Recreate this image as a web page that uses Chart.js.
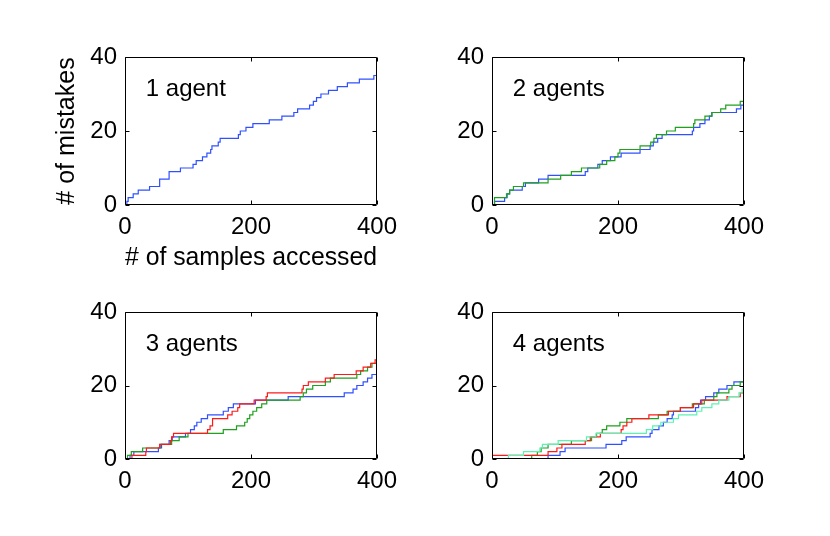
<!DOCTYPE html>
<html>
<head>
<meta charset="utf-8">
<script src="https://cdn.jsdelivr.net/npm/chart.js@4.4.1/dist/chart.umd.min.js"></script>
<style>
  body { margin: 0; background: #fff; width: 830px; height: 536px; overflow: hidden; position: relative; }
  canvas { position: absolute; }
</style>
</head>
<body>
<canvas id="p1"></canvas>
<canvas id="p2"></canvas>
<canvas id="p3"></canvas>
<canvas id="p4"></canvas>
<script>
// axis ticks
const xTicks = [0, 200, 400];
const yTicks = [0, 20, 40];
const panelTitles = ['1 agent', '2 agents', '3 agents', '4 agents'];
const xLabel = '# of samples accessed';
const yLabel = '# of mistakes';

// 1 agent
const a1BlueX = [0,3,5,13,21,39,55,70,88,108,113,123,130,136,138,148,151,180,183,192,203,229,249,268,274,293,299,304,311,323,337,353,372,395,400];
const a1BlueY = [0,1,2,3,4,5,7,9,10,11,12,13,14,15,16,17,18,19,20,21,22,23,24,25,26,27,28,29,30,31,32,33,34,35,35];

// 2 agents
const a2BlueX = [0,4,20,24,28,48,53,74,89,148,152,168,175,188,205,235,251,256,263,270,318,320,330,338,345,349,388,395,400];
const a2BlueY = [0,1,2,3,4,5,6,7,8,9,10,11,12,13,14,15,16,17,18,19,20,21,22,23,24,25,26,27,27];
const a2GreenX = [0,4,23,28,34,50,89,109,126,142,171,182,195,200,203,235,252,257,261,277,291,320,322,338,349,363,371,394,400];
const a2GreenY = [0,2,3,4,5,6,7,8,9,10,11,12,13,14,15,16,17,18,19,20,21,22,23,24,25,26,27,28,28];

// 3 agents
const a3BlueX = [0,8,14,53,58,70,75,96,104,110,114,121,131,156,164,172,207,259,348,362,368,378,385,392,400];
const a3BlueY = [0,1,2,3,4,5,6,7,8,9,10,11,12,13,14,15,16,17,18,19,20,21,22,23,23];
const a3GreenX = [0,4,10,28,56,74,86,100,156,177,190,194,198,203,209,217,225,278,283,288,298,318,326,368,374,385,392,400];
const a3GreenY = [0,1,2,3,4,5,6,7,8,9,10,11,12,13,14,15,16,17,18,19,20,21,22,23,24,25,26,26];
const a3RedX = [0,11,33,34,55,72,74,77,131,135,139,163,170,179,182,205,224,226,281,283,291,318,332,367,378,390,397,400];
const a3RedY = [0,1,2,3,4,5,6,7,8,9,11,12,13,14,15,16,17,18,19,20,21,22,23,24,25,26,27,27];

// 4 agents
const a4BlueX = [0,89,108,116,181,206,213,251,254,265,272,278,286,288,323,328,331,339,352,360,373,384,400];
const a4BlueY = [0,1,2,3,4,5,6,7,8,9,10,11,12,13,14,15,16,17,18,19,20,21,21];
const a4GreenX = [0,63,72,78,89,126,158,166,175,182,203,214,264,278,299,318,337,352,357,376,381,394,400];
const a4GreenY = [0,1,2,3,4,5,6,7,8,9,10,11,12,13,14,15,16,17,18,19,20,21,21];
const a4RedX = [0,89,103,111,148,156,172,205,208,214,222,249,280,299,320,333,373,394,400];
const a4RedY = [1,2,3,4,5,6,7,8,9,10,11,12,13,14,15,16,17,18,18];
const a4CyanX = [0,26,50,76,80,105,150,165,245,255,268,288,296,325,333,349,360,376,392,397,400];
const a4CyanY = [0,1,2,3,4,5,6,7,8,9,10,11,12,13,14,15,16,17,18,19,19];

const BLUE = '#3050ff', GREEN = '#1fa01f', RED = '#ff1a1a', CYAN = '#5cf2b4';
const FAMILY = "'Liberation Sans', Arial, Helvetica, sans-serif";
const FONT = { family: FAMILY, size: 24 };
const TITLE_FONT = { family: FAMILY, size: 25 };

function series(xs, ys, color, order) {
  return {
    data: xs.map((x, i) => ({ x: x, y: ys[i] })),
    stepped: true,
    borderColor: color,
    borderWidth: 1.2,
    pointRadius: 0,
    fill: false,
    order: order
  };
}

// box, inward ticks on all sides, panel caption
const framePlugin = {
  id: 'frame',
  afterDatasetsDraw(chart) {
    const { ctx, chartArea: a, scales: { x, y } } = chart;
    const L = Math.round(a.left) + 0.5, R = Math.round(a.right) - 0.5;
    const T = Math.round(a.top) + 0.5, B = Math.round(a.bottom) - 0.5;
    ctx.save();
    ctx.strokeStyle = '#000';
    ctx.lineWidth = 1;
    ctx.beginPath();
    ctx.rect(L, T, R - L, B - T);
    xTicks.forEach(v => {
      const px = Math.round(x.getPixelForValue(v)) + 0.5;
      ctx.moveTo(px, B); ctx.lineTo(px, B - 4);
      ctx.moveTo(px, T); ctx.lineTo(px, T + 4);
    });
    yTicks.forEach(v => {
      const py = Math.round(y.getPixelForValue(v)) + 0.5;
      ctx.moveTo(L, py); ctx.lineTo(L + 4, py);
      ctx.moveTo(R, py); ctx.lineTo(R - 4, py);
    });
    ctx.stroke();
    ctx.fillStyle = '#000';
    ctx.font = FONT.size + 'px ' + FONT.family;
    ctx.textBaseline = 'alphabetic';
    ctx.fillText(chart.options.plugins.frame.caption, x.getPixelForValue(33), y.getPixelForValue(29.5));
    ctx.restore();
  }
};

function makePanel(id, box, yW, xH, caption, datasets, withTitles) {
  const cv = document.getElementById(id);
  const padTop = 24, padRight = 32;
  cv.width = yW + box.w + padRight;
  cv.height = padTop + box.h + xH;
  cv.style.left = (box.l - yW) + 'px';
  cv.style.top = (box.t - padTop) + 'px';

  new Chart(cv, {
    type: 'line',
    data: { datasets: datasets },
    plugins: [framePlugin],
    options: {
      responsive: false,
      animation: false,
      layout: { padding: { top: padTop, right: padRight, left: 0, bottom: 0 } },
      plugins: { legend: { display: false }, tooltip: { enabled: false }, frame: { caption: caption } },
      scales: {
        x: {
          type: 'linear', min: 0, max: 400,
          afterBuildTicks: s => { s.ticks = xTicks.map(v => ({ value: v })); },
          afterFit: s => { s.height = xH; },
          ticks: { font: FONT, color: '#000', padding: 8, maxRotation: 0, autoSkip: false },
          grid: { display: false, drawTicks: false },
          border: { display: false },
          title: { display: withTitles, text: xLabel, font: TITLE_FONT, color: '#000', padding: { top: 0, bottom: 4 } }
        },
        y: {
          type: 'linear', min: 0, max: 40,
          afterBuildTicks: s => { s.ticks = yTicks.map(v => ({ value: v })); },
          afterFit: s => { s.width = yW; },
          ticks: { font: FONT, color: '#000', padding: 8, autoSkip: false },
          grid: { display: false, drawTicks: false },
          border: { display: false },
          title: { display: withTitles, text: yLabel, font: TITLE_FONT, color: '#000', padding: { top: 12, bottom: 0 } }
        }
      }
    }
  });
}

makePanel('p1', { l: 125, t: 57, w: 252, h: 148 }, 85, 72, panelTitles[0], [
  series(a1BlueX, a1BlueY, BLUE, 4)
], true);

makePanel('p2', { l: 492, t: 57, w: 252, h: 148 }, 50, 40, panelTitles[1], [
  series(a2BlueX, a2BlueY, BLUE, 4),
  series(a2GreenX, a2GreenY, GREEN, 3)
], false);

makePanel('p3', { l: 125, t: 312, w: 252, h: 147 }, 50, 40, panelTitles[2], [
  series(a3BlueX, a3BlueY, BLUE, 4),
  series(a3GreenX, a3GreenY, GREEN, 3),
  series(a3RedX, a3RedY, RED, 2)
], false);

makePanel('p4', { l: 492, t: 312, w: 252, h: 147 }, 50, 40, panelTitles[3], [
  series(a4BlueX, a4BlueY, BLUE, 4),
  series(a4GreenX, a4GreenY, GREEN, 3),
  series(a4RedX, a4RedY, RED, 2),
  series(a4CyanX, a4CyanY, CYAN, 1)
], false);
</script>
</body>
</html>
